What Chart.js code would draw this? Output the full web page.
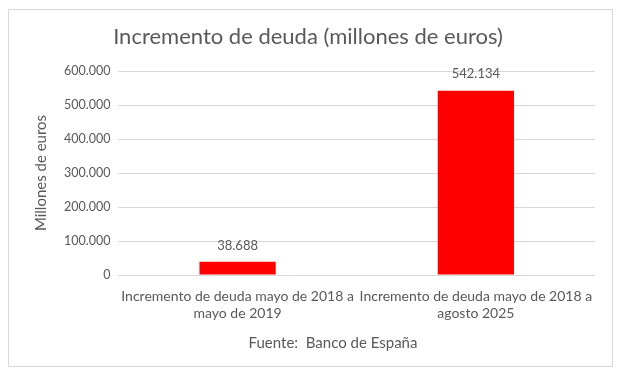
<!DOCTYPE html>
<html><head><meta charset="utf-8">
<script src="https://cdn.jsdelivr.net/npm/chart.js@4"></script>
<style>html,body{margin:0;padding:0;background:#fff}#w{width:617px;height:379px;position:relative}</style>
</head><body><div id="w"><canvas id="c"></canvas></div>
<script>
const categories = [["Incremento de deuda mayo de 2018 a","mayo de 2019"],["Incremento de deuda mayo de 2018 a","agosto 2025"]];
const values = [38688, 542134];
const yTicks = [0, 100000, 200000, 300000, 400000, 500000, 600000];
const titleText = "Incremento de deuda (millones de euros)";
const yTitle = "Millones de euros";
const xTitle = "Fuente:  Banco de España";

const fmt = v => Math.round(v).toString().replace(/\B(?=(\d{3})+(?!\d))/g, ".");
const FONT = "Lato, 'Open Sans', sans-serif";
const GREY = "#595959";

const frame = {id:'frame', beforeDraw(ch){const c=ch.ctx;c.save();c.fillStyle='#fff';c.fillRect(0,0,ch.width,ch.height);c.strokeStyle='#d9d9d9';c.lineWidth=1;c.strokeRect(8.5,9.5,604,357);
 c.fillStyle=GREY;c.textAlign='center';c.textBaseline='middle';
 c.font="22px "+FONT;c.fillText(titleText,308,37);
 c.font="15px "+FONT;c.fillText(xTitle,333,343);
 c.restore();}};
const labels = {id:'labels', afterDatasetsDraw(ch){const c=ch.ctx;c.save();c.font="13px "+FONT;c.fillStyle=GREY;c.textAlign='center';c.textBaseline='bottom';
 ch.getDatasetMeta(0).data.forEach((b,i)=>{c.fillText(fmt(values[i]), b.x, b.y-10);});c.restore();}};

new Chart(document.getElementById('c'),{
 type:'bar',
 data:{labels:categories,datasets:[{data:values,backgroundColor:'#ff0000',barPercentage:0.32,categoryPercentage:1}]},
 options:{responsive:true,maintainAspectRatio:false,animation:false,
  layout:{padding:{left:28,right:22,top:71,bottom:23}},
  plugins:{legend:{display:false},tooltip:{enabled:false},title:{display:false}},
  scales:{
   x:{grid:{display:false},border:{display:false},ticks:{color:GREY,font:{family:FONT,size:14},padding:5,maxRotation:0},
      title:{display:true,text:xTitle,color:'rgba(0,0,0,0)',font:{family:FONT,size:14.5},padding:{top:8}}},
   y:{min:0,max:600000,afterBuildTicks(ax){ax.ticks=yTicks.map(v=>({value:v}));},
      grid:{color:'#d9d9d9',drawTicks:false},border:{display:false},
      ticks:{color:GREY,font:{family:FONT,size:12.5},padding:8,callback:v=>fmt(v)},
      title:{display:true,text:yTitle,color:GREY,font:{family:FONT,size:15},padding:{bottom:6}}}
  }},
 plugins:[frame,labels]
});
</script></body></html>
